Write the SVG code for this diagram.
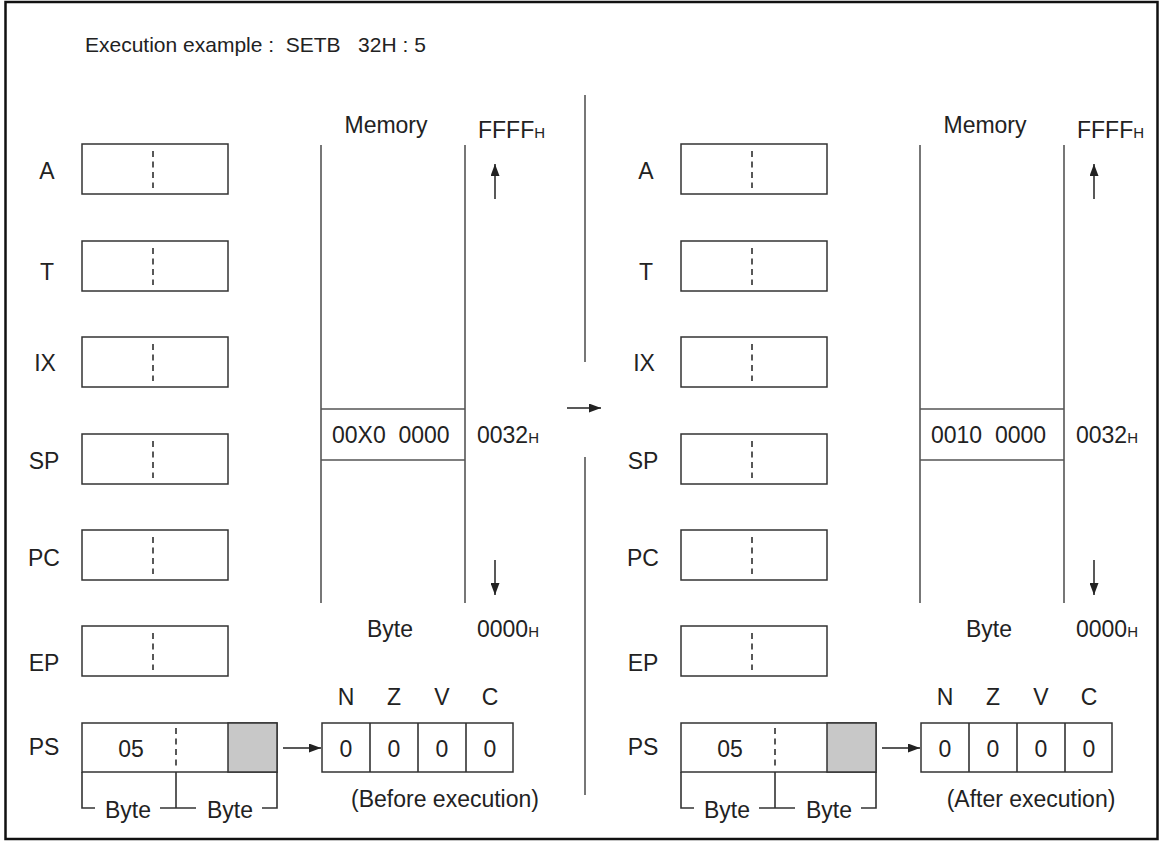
<svg xmlns="http://www.w3.org/2000/svg" width="1161" height="843" viewBox="0 0 1161 843">
<style>
text{font-family:"Liberation Sans",Arial,sans-serif;font-size:23px;fill:#222}
.sub{font-size:15px}
.ttl{font-size:21px}
.box{fill:#fff;stroke:#333;stroke-width:1.5}
.dash{stroke:#222;stroke-width:1.5;stroke-dasharray:6 4.5}
.ln{stroke:#555;stroke-width:1.6;fill:none}
.gray{fill:#c8c8c8;stroke:#333;stroke-width:1.5}
.arr{stroke:#222;stroke-width:1.5;fill:none;marker-end:url(#ah)}
.mid{text-anchor:middle}
</style>
<defs>
<marker id="ah" viewBox="0 0 12 9" refX="12" refY="4.5" markerWidth="12" markerHeight="9" markerUnits="userSpaceOnUse" orient="auto">
<path d="M0 0 L12 4.5 L0 9 Z" fill="#222"/>
</marker>
<g id="regs">
<rect class="box" x="82" y="144" width="146" height="50"/><line class="dash" x1="153" y1="151" x2="153" y2="188"/>
<rect class="box" x="82" y="241" width="146" height="50"/><line class="dash" x1="153" y1="248" x2="153" y2="285"/>
<rect class="box" x="82" y="337" width="146" height="50"/><line class="dash" x1="153" y1="344" x2="153" y2="381"/>
<rect class="box" x="82" y="434" width="146" height="50"/><line class="dash" x1="153" y1="441" x2="153" y2="478"/>
<rect class="box" x="82" y="530" width="146" height="50"/><line class="dash" x1="153" y1="537" x2="153" y2="574"/>
<rect class="box" x="82" y="626" width="146" height="50"/><line class="dash" x1="153" y1="633" x2="153" y2="670"/>
</g>
</defs>
<rect x="5.5" y="2" width="1152" height="837" fill="#fff" stroke="#111" stroke-width="2.5"/>
<text id="title" class="ttl" x="85" y="52" xml:space="preserve">Execution example :  SETB   32H : 5</text>

<g id="before">
<g id="regs-before">
<use href="#regs"/>
<text x="47" y="179" class="mid">A</text>
<text x="47" y="280" class="mid">T</text>
<text x="45" y="371" class="mid">IX</text>
<text x="44" y="469" class="mid">SP</text>
<text x="44" y="566" class="mid">PC</text>
<text x="44" y="671" class="mid">EP</text>
<text x="44" y="755" class="mid">PS</text>
</g>
<g id="memory-before">
<text x="386" y="133" class="mid">Memory</text>
<text x="478" y="138">FFFF<tspan class="sub">H</tspan></text>
<line class="ln" x1="321" y1="145" x2="321" y2="603"/>
<line class="ln" x1="465" y1="145" x2="465" y2="603"/>
<line class="ln" x1="321" y1="409" x2="465" y2="409"/>
<line class="ln" x1="321" y1="460" x2="465" y2="460"/>
<text x="332" y="443" xml:space="preserve">00X0  0000</text>
<text x="477" y="443">0032<tspan class="sub">H</tspan></text>
<text x="390" y="637" class="mid">Byte</text>
<text x="477" y="637">0000<tspan class="sub">H</tspan></text>
</g>
<g id="ps-before">
<rect class="box" x="82" y="723" width="195" height="49"/>
<rect class="gray" x="228" y="723" width="49" height="49"/>
<line class="dash" x1="176" y1="728" x2="176" y2="768"/>
<text x="131" y="757" class="mid">05</text>
<path class="ln" d="M82 772 V808 H95 M160 808 H196 M176 772 V808 M262 808 H277 V772" style="stroke:#333"/>
<text x="128" y="818" class="mid">Byte</text>
<text x="230" y="818" class="mid">Byte</text>
</g>
<g id="flags-before">
<rect class="box" x="322" y="723" width="191" height="49"/>
<line class="ln" style="stroke:#333" x1="370" y1="723" x2="370" y2="772"/>
<line class="ln" style="stroke:#333" x1="418" y1="723" x2="418" y2="772"/>
<line class="ln" style="stroke:#333" x1="466" y1="723" x2="466" y2="772"/>
<text x="346" y="705" class="mid">N</text><text x="394" y="705" class="mid">Z</text><text x="442" y="705" class="mid">V</text><text x="490" y="705" class="mid">C</text>
<text x="346" y="757" class="mid">0</text><text x="394" y="757" class="mid">0</text><text x="442" y="757" class="mid">0</text><text x="490" y="757" class="mid">0</text>
<text x="445" y="807" class="mid">(Before execution)</text>
</g>
</g>

<g id="after">
<g id="regs-after" transform="translate(599,0)">
<use href="#regs"/>
<text x="47" y="179" class="mid">A</text>
<text x="47" y="280" class="mid">T</text>
<text x="45" y="371" class="mid">IX</text>
<text x="44" y="469" class="mid">SP</text>
<text x="44" y="566" class="mid">PC</text>
<text x="44" y="671" class="mid">EP</text>
<text x="44" y="755" class="mid">PS</text>
</g>
<g id="memory-after" transform="translate(599,0)">
<text x="386" y="133" class="mid">Memory</text>
<text x="478" y="138">FFFF<tspan class="sub">H</tspan></text>
<line class="ln" x1="321" y1="145" x2="321" y2="603"/>
<line class="ln" x1="465" y1="145" x2="465" y2="603"/>
<line class="ln" x1="321" y1="409" x2="465" y2="409"/>
<line class="ln" x1="321" y1="460" x2="465" y2="460"/>
<text x="332" y="443" xml:space="preserve">0010  0000</text>
<text x="477" y="443">0032<tspan class="sub">H</tspan></text>
<text x="390" y="637" class="mid">Byte</text>
<text x="477" y="637">0000<tspan class="sub">H</tspan></text>
</g>
<g id="ps-after" transform="translate(599,0)">
<rect class="box" x="82" y="723" width="195" height="49"/>
<rect class="gray" x="228" y="723" width="49" height="49"/>
<line class="dash" x1="176" y1="728" x2="176" y2="768"/>
<text x="131" y="757" class="mid">05</text>
<path class="ln" d="M82 772 V808 H95 M160 808 H196 M176 772 V808 M262 808 H277 V772" style="stroke:#333"/>
<text x="128" y="818" class="mid">Byte</text>
<text x="230" y="818" class="mid">Byte</text>
</g>
<g id="flags-after" transform="translate(599,0)">
<rect class="box" x="322" y="723" width="191" height="49"/>
<line class="ln" style="stroke:#333" x1="370" y1="723" x2="370" y2="772"/>
<line class="ln" style="stroke:#333" x1="418" y1="723" x2="418" y2="772"/>
<line class="ln" style="stroke:#333" x1="466" y1="723" x2="466" y2="772"/>
<text x="346" y="705" class="mid">N</text><text x="394" y="705" class="mid">Z</text><text x="442" y="705" class="mid">V</text><text x="490" y="705" class="mid">C</text>
<text x="346" y="757" class="mid">0</text><text x="394" y="757" class="mid">0</text><text x="442" y="757" class="mid">0</text><text x="490" y="757" class="mid">0</text>
<text x="432" y="807" class="mid">(After execution)</text>
</g>
</g>

<g id="connectors">
<line class="ln" x1="585" y1="95" x2="585" y2="362"/>
<line class="ln" x1="585" y1="457" x2="585" y2="795"/>
<line class="arr" x1="567" y1="408" x2="601" y2="408"/>
<line class="arr" x1="495" y1="199" x2="495" y2="164"/>
<line class="arr" x1="495" y1="560" x2="495" y2="595"/>
<line class="arr" x1="1094" y1="199" x2="1094" y2="164"/>
<line class="arr" x1="1094" y1="560" x2="1094" y2="595"/>
<line class="arr" x1="283" y1="748" x2="321" y2="748"/>
<line class="arr" x1="882" y1="748" x2="920" y2="748"/>
</g>
</svg>
